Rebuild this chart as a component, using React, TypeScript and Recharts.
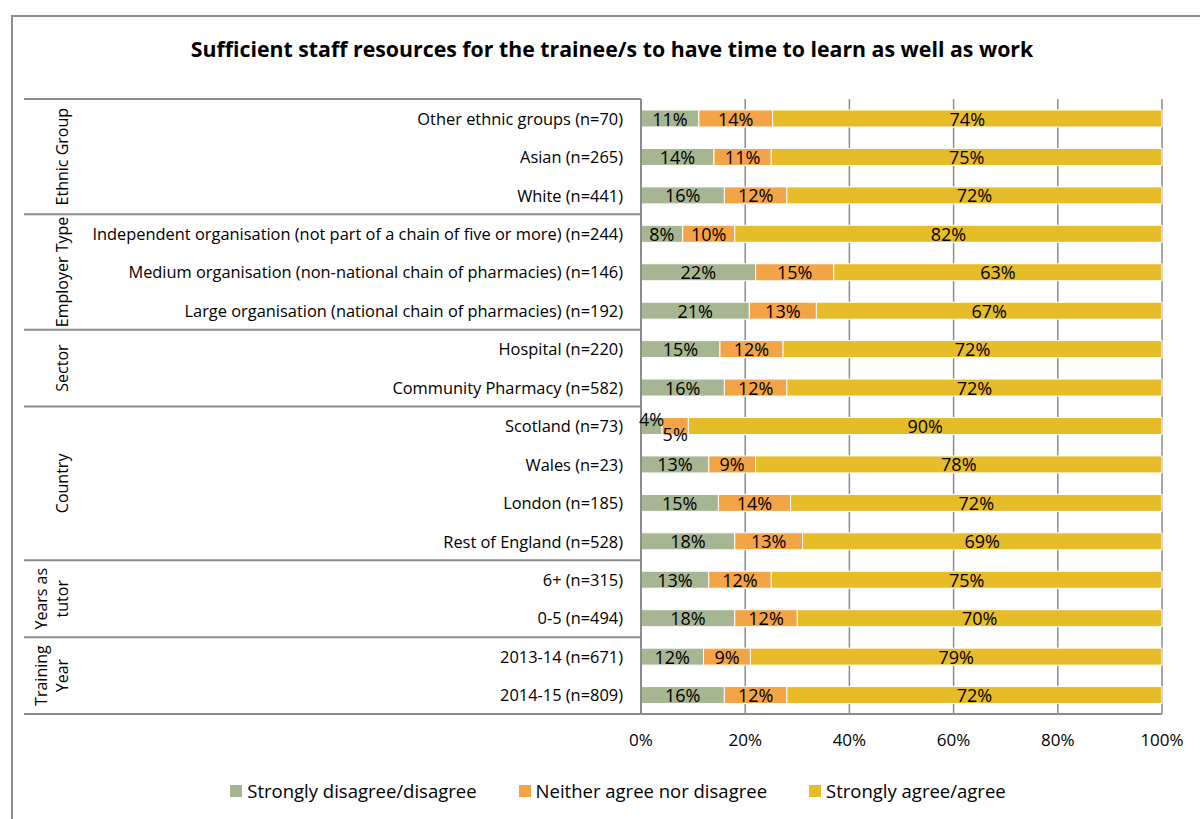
import React from 'react';
import {
  BarChart,
  Bar,
  XAxis,
  YAxis,
  CartesianGrid,
  Legend,
  LabelList,
} from 'recharts';

// Colour palette
const COLORS = {
  disagree: '#A6B693',
  neutral: '#F3A447',
  agree: '#E7BC29',
  line: '#8C8C8C',
};

// Categories, top to bottom
const categories = [
  'Other ethnic groups (n=70)',
  'Asian (n=265)',
  'White (n=441)',
  'Independent organisation (not part of a chain of five or more) (n=244)',
  'Medium organisation (non-national chain of pharmacies) (n=146)',
  'Large organisation (national chain of pharmacies) (n=192)',
  'Hospital (n=220)',
  'Community Pharmacy (n=582)',
  'Scotland (n=73)',
  'Wales (n=23)',
  'London (n=185)',
  'Rest of England (n=528)',
  '6+ (n=315)',
  '0-5 (n=494)',
  '2013-14 (n=671)',
  '2014-15 (n=809)',
];

// Series values (%)
const disagree = [11, 14, 16, 8, 22, 21, 15, 16, 4, 13, 15, 18, 13, 18, 12, 16];
const neutral = [14, 11, 12, 10, 15, 13, 12, 12, 5, 9, 14, 13, 12, 12, 9, 12];
const agree = [74, 75, 72, 82, 63, 67, 72, 72, 90, 78, 72, 69, 75, 70, 79, 72];

// Outer category groups
const groupNames = [
  ['Ethnic Group'],
  ['Employer Type'],
  ['Sector'],
  ['Country'],
  ['Years as', 'tutor'],
  ['Training', 'Year'],
];
const groupSizes = [3, 3, 2, 4, 2, 2];

const xTicks = [0, 0.2, 0.4, 0.6, 0.8, 1];

const seriesNames = [
  'Strongly disagree/disagree',
  'Neither agree nor disagree',
  'Strongly agree/agree',
];

const data = categories.map((label, i) => ({
  label,
  disagree: disagree[i],
  neutral: neutral[i],
  agree: agree[i],
}));

const groupStarts: number[] = [];
groupSizes.reduce((acc, n) => {
  groupStarts.push(acc);
  return acc + n;
}, 0);

const FONT = '"Open Sans", sans-serif';
const CHART_W = 1200;
const CHART_H = 819;
const MARGIN = { top: 99, right: 38, left: 24, bottom: 75 };
const AXIS_X = 641; // inner edge of the category axis
const GROUP_X = 62;
const FALLBACK_HALF = (CHART_H - MARGIN.top - MARGIN.bottom - 30) / categories.length / 2;

function CategoryTick(props: any) {
  const { x, y, payload } = props;
  const i: number = payload.index ?? props.index;
  const half: number = payload.offset || FALLBACK_HALF;
  const g = groupStarts.indexOf(i);
  const parts: React.ReactNode[] = [];

  parts.push(
    <text key="t" x={x} y={y} textAnchor="end" dominantBaseline="central" fontSize={16.4} fill="#000" fontFamily={FONT}>
      {payload.value}
    </text>
  );

  if (g >= 0) {
    const top = y - half;
    parts.push(
      <line key="l" x1={MARGIN.left} x2={AXIS_X} y1={top} y2={top} stroke={COLORS.line} strokeWidth={2} />
    );
    const cy = top + groupSizes[g] * half;
    const lines = groupNames[g];
    lines.forEach((ln, k) => {
      const lx = GROUP_X - (lines.length - 1 - k) * 21;
      parts.push(
        <text
          key={`g${k}`}
          x={lx}
          y={cy}
          transform={`rotate(-90 ${lx} ${cy})`}
          textAnchor="middle"
          dominantBaseline="central"
          fontSize={16}
          fill="#000"
          fontFamily={FONT}
        >
          {ln}
        </text>
      );
    });
  }
  if (i === categories.length - 1) {
    parts.push(
      <line key="b" x1={MARGIN.left} x2={AXIS_X} y1={y + half} y2={y + half} stroke={COLORS.line} strokeWidth={2} />
    );
  }
  return <g>{parts}</g>;
}

// small segments get their labels staggered above / below
const makeLabel = (series: number) => (props: any) => {
  const { x, y, width, height, value } = props;
  const dy = value < 6 ? (series === 0 ? -7 : 8) : 0;
  return (
    <text
      x={x + width / 2}
      y={y + height / 2 + dy}
      textAnchor="middle"
      dominantBaseline="central"
      fontSize={18}
      fill="#000"
      fontFamily={FONT}
    >
      {`${value}%`}
    </text>
  );
};

function LegendContent() {
  const colors = [COLORS.disagree, COLORS.neutral, COLORS.agree];
  return (
    <div style={{ display: 'flex', justifyContent: 'center', gap: 42 }}>
      {seriesNames.map((name, i) => (
        <div key={name} style={{ display: 'flex', alignItems: 'center', fontSize: 18.5, color: '#000' }}>
          <span style={{ display: 'inline-block', width: 12, height: 12, background: colors[i], marginRight: 5 }} />
          {name}
        </div>
      ))}
    </div>
  );
}

export default function App() {
  return (
    <div
      style={{
        position: 'absolute',
        left: 0,
        top: 0,
        width: CHART_W,
        height: CHART_H,
        overflow: 'hidden',
        background: '#fff',
        fontFamily: FONT,
      }}
    >
      <div
        style={{
          position: 'absolute',
          left: 11,
          top: 15,
          width: 1300,
          height: 1000,
          borderLeft: `2px solid ${COLORS.line}`,
          borderTop: `2px solid ${COLORS.line}`,
        }}
      />
      <div
        style={{
          position: 'absolute',
          top: 34,
          left: 0,
          width: 1224,
          textAlign: 'center',
          fontWeight: 700,
          fontSize: 21.3,
          color: '#000',
        }}
      >
        Sufficient staff resources for the trainee/s to have time to learn as well as work
      </div>
      <BarChart
        width={CHART_W}
        height={CHART_H}
        data={data}
        layout="vertical"
        stackOffset="expand"
        margin={MARGIN}
        style={{ position: 'absolute', left: 0, top: 0 }}
      >
        <CartesianGrid horizontal={false} stroke={COLORS.line} strokeWidth={1.5} />
        <XAxis
          type="number"
          domain={[0, 1]}
          ticks={xTicks}
          tickFormatter={(v: number) => `${Math.round(v * 100)}%`}
          axisLine={{ stroke: COLORS.line, strokeWidth: 2 }}
          tickLine={false}
          tickMargin={14}
          tick={{ fill: '#000', fontSize: 17, fontFamily: FONT }}
        />
        <YAxis
          type="category"
          dataKey="label"
          width={AXIS_X - MARGIN.left}
          axisLine={{ stroke: COLORS.line, strokeWidth: 2 }}
          tickLine={false}
          tickMargin={12}
          interval={0}
          tick={<CategoryTick />}
        />
        <Legend
          verticalAlign="middle"
          align="center"
          layout="horizontal"
          content={<LegendContent />}
          wrapperStyle={{ position: 'absolute', top: 778, left: 0, width: 1236 }}
        />
        <Bar dataKey="disagree" stackId="a" fill={COLORS.disagree} barSize={17} stroke="#fff" strokeWidth={1} isAnimationActive={false}>
          <LabelList dataKey="disagree" content={makeLabel(0)} />
        </Bar>
        <Bar dataKey="neutral" stackId="a" fill={COLORS.neutral} barSize={17} stroke="#fff" strokeWidth={1} isAnimationActive={false}>
          <LabelList dataKey="neutral" content={makeLabel(1)} />
        </Bar>
        <Bar dataKey="agree" stackId="a" fill={COLORS.agree} barSize={17} stroke="#fff" strokeWidth={1} isAnimationActive={false}>
          <LabelList dataKey="agree" content={makeLabel(2)} />
        </Bar>
      </BarChart>
    </div>
  );
}
